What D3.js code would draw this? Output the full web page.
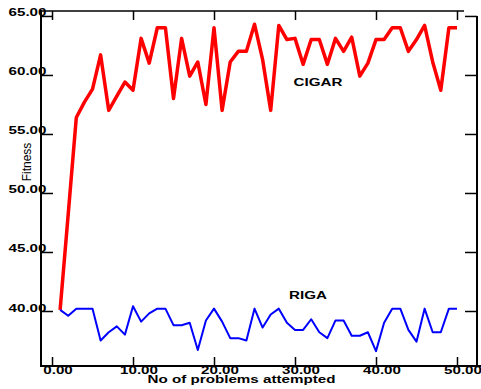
<!DOCTYPE html>
<html><head><meta charset="utf-8">
<script src="https://cdn.jsdelivr.net/npm/d3@7"></script>
<style>
html,body{margin:0;padding:0;background:#fff;}
svg{display:block;}
text{font-family:"Liberation Sans",Arial,Helvetica,sans-serif;}
</style></head>
<body><svg id="c" width="481" height="389"></svg>
<script>
const problems = [1,2,3,4,5,6,7,8,9,10,11,12,13,14,15,16,17,18,19,20,21,22,23,24,25,26,27,28,29,30,31,32,33,34,35,36,37,38,39,40,41,42,43,44,45,46,47,48,49,50];
const cigar = [40.1,48.2,56.4,57.7,58.8,61.7,57.0,58.2,59.4,58.7,63.1,61.0,64.0,64.0,58.0,63.1,59.9,61.1,57.5,64.0,57.0,61.1,62.0,62.0,64.3,61.3,57.0,64.2,63.0,63.1,60.9,63.0,63.0,60.9,63.1,62.0,63.2,59.9,61.0,63.0,63.0,64.0,64.0,62.0,63.0,64.2,61.1,58.7,64.0,64.0];
const riga = [40.1,39.6,40.2,40.2,40.2,37.5,38.2,38.7,38.0,40.4,39.1,39.8,40.2,40.2,38.8,38.8,39.0,36.7,39.2,40.2,39.1,37.7,37.7,37.5,40.2,38.6,39.7,40.2,39.0,38.4,38.4,39.3,38.2,37.7,39.2,39.2,37.9,37.9,38.2,36.6,39.0,40.2,40.2,38.4,37.4,40.2,38.2,38.2,40.2,40.2];
const xTicks = [0,10,20,30,40,50];
const yTicks = [40,45,50,55,60,65];
const seriesNames = ["CIGAR","RIGA"];
const xTitle = "No of problems attempted";
const yTitle = "Fitness";

const L=41, R=477, T=11, B=366;
const SX = 1.38;
const svg = d3.select("#c");
svg.append("rect").attr("width",481).attr("height",389).attr("fill","#fff");

const x = d3.scaleLinear().domain([-1.36, 52.47]).range([L, R]);
const y = d3.scaleLinear().domain([35.34, 65.42]).range([B, T]);
const fmt = d3.format(".2f");

// bottom axis
const gb = svg.append("g").attr("transform",`translate(0,${B})`)
  .call(d3.axisBottom(x).tickValues(xTicks).tickSizeInner(-9).tickSizeOuter(0).tickFormat(fmt));
gb.select(".domain").remove();
gb.selectAll("line").attr("stroke","#000").attr("stroke-width",1.5);
gb.selectAll("text").attr("x",0).attr("y",0).attr("dy",null)
  .attr("transform",`translate(5.5,7.5) scale(${SX},1)`)
  .attr("font-size",11).attr("font-weight","bold").attr("fill","#000").attr("text-anchor","middle");

// top axis
const gt = svg.append("g").attr("transform",`translate(0,${T})`)
  .call(d3.axisTop(x).tickValues(xTicks).tickSizeInner(-9).tickSizeOuter(0).tickFormat(""));
gt.select(".domain").remove();
gt.selectAll("line").attr("stroke","#000").attr("stroke-width",1.5);

// left axis
const gl = svg.append("g").attr("transform",`translate(${L},0)`)
  .call(d3.axisLeft(y).tickValues(yTicks).tickSizeInner(-12).tickSizeOuter(0).tickFormat(fmt));
gl.select(".domain").remove();
gl.selectAll("line").attr("stroke","#000").attr("stroke-width",1.5);
gl.selectAll("text").attr("x",0).attr("y",0).attr("dy",null)
  .attr("transform",`translate(5.5,0) scale(${SX},1)`)
  .attr("font-size",11).attr("font-weight","bold").attr("fill","#000").attr("text-anchor","end");

// right axis
const gr = svg.append("g").attr("transform",`translate(${R},0)`)
  .call(d3.axisRight(y).tickValues(yTicks).tickSizeInner(-12).tickSizeOuter(0).tickFormat(""));
gr.select(".domain").remove();
gr.selectAll("line").attr("stroke","#000").attr("stroke-width",1.5);

// frame
svg.append("line").attr("x1",L).attr("x2",L).attr("y1",T-1).attr("y2",B+1).attr("stroke","#000").attr("stroke-width",2);
svg.append("line").attr("x1",L).attr("x2",481).attr("y1",B).attr("y2",B).attr("stroke","#000").attr("stroke-width",2);
svg.append("line").attr("x1",L).attr("x2",464).attr("y1",T).attr("y2",T).attr("stroke","#000").attr("stroke-width",1.5);
svg.append("line").attr("x1",R).attr("x2",R).attr("y1",y(65)).attr("y2",B).attr("stroke","#000").attr("stroke-width",2);

// lines
const line = d3.line().x((d,i)=>x(problems[i])).y(d=>y(d));
svg.append("path").datum(cigar).attr("d",line).attr("fill","none")
  .attr("stroke","#ff0000").attr("stroke-width",3.5).attr("stroke-linejoin","round");
svg.append("path").datum(riga).attr("d",line).attr("fill","none")
  .attr("stroke","#0000ff").attr("stroke-width",2).attr("stroke-linejoin","round");

function label(txt, cx, by, size, weight){
  svg.append("text").attr("transform",`translate(${cx},${by}) scale(${SX},1)`)
    .attr("text-anchor","middle").attr("font-size",size).attr("font-weight",weight)
    .attr("fill","#000").text(txt);
}
label(seriesNames[0], 318, 86, 11, "bold");
label(seriesNames[1], 308, 299, 11, "bold");
label(xTitle, 241.5, 383, 11, "bold");

svg.append("text").attr("transform","translate(31,162) rotate(-90)")
  .attr("text-anchor","middle").attr("font-size",12).attr("font-weight","normal")
  .attr("fill","#000").text(yTitle);
</script></body></html>
